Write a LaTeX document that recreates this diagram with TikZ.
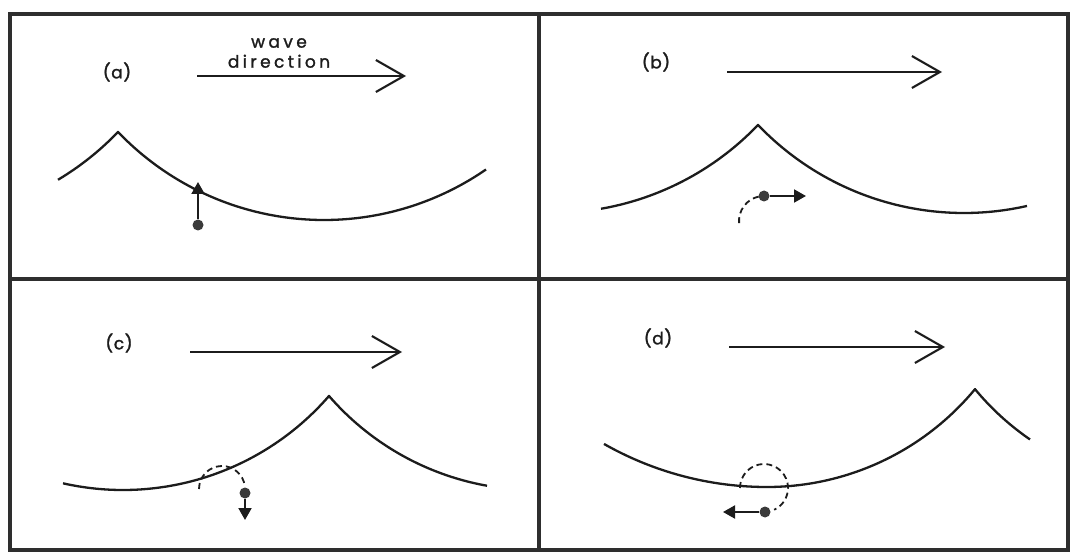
\documentclass[tikz,border=0pt]{standalone}
\usepackage{fontspec}
\setmainfont{Poppins}
\usetikzlibrary{arrows.meta}
\definecolor{ink}{HTML}{1C1C1C}
\definecolor{framecol}{HTML}{2E2E2E}
\definecolor{dotcol}{HTML}{3A3A3A}
\begin{document}
\begin{tikzpicture}[x=1pt,y=-1pt,
  declare function={wv(\p,\c,\b,\r)=\b-\r+\r*sqrt(1-((\p-\c)/\r)^2);},
  wave/.style={line width=2.3pt, ink, line join=miter},
  dirarrow/.style={line width=2.1pt, ink, -{Straight Barb[length=28pt,width=32pt]}},
  frame/.style={line width=4pt, framecol},
  dot/.style={circle, fill=dotcol, draw=none, inner sep=0pt, minimum size=11pt},
  orbit/.style={line width=1.8pt, ink, dash pattern=on 6pt off 4pt},
  motion/.style={line width=2pt, ink, -{Triangle[length=12pt,width=13pt]}},
  lab/.style={text=ink, font=\fontsize{17}{20}\selectfont\addfontfeatures{LetterSpace=4,FakeBold=1.5}},
  wlab/.style={text=ink, align=center, font=\fontsize{17}{20}\selectfont\addfontfeatures{LetterSpace=20,FakeBold=1.5}}
]
\fill[white] (0,0) rectangle (1073,553);
\useasboundingbox (0,0) rectangle (1073,553);

% frame
\draw[frame] (10,14) rectangle (1068,550);
\draw[frame] (539,14) -- (539,550);
\draw[frame] (10,279) -- (1068,279);

% ---------- panel (a)
\node[lab] (la) at (117,72) {(a)};
\node[wlab] (wd) at (279,53) {wave\\direction};
\coordinate (as) at (197,76); \coordinate (ae) at (406,76);
\draw[dirarrow] (as) -- (ae);
\draw[wave] plot[domain=58:118,samples=30] (\x,{wv(\x,-88,220,285)})
  -- plot[domain=118:486,samples=90] (\x,{wv(\x,324,220,285)});
\node[dot] (pa) at (198,225) {};
\coordinate (ta) at (198,182);
\draw[motion] (pa) -- (ta);

% ---------- panel (b)
\node[lab] (lb) at (656,62) {(b)};
\coordinate (bs) at (727,72); \coordinate (be) at (942,72);
\draw[dirarrow] (bs) -- (be);
\draw[wave] plot[domain=601:758,samples=40] (\x,{wv(\x,552,213,285)})
  -- plot[domain=758:1027,samples=70] (\x,{wv(\x,964,213,285)});
\draw[orbit] (764,221) ++(175:25) arc[start angle=175,end angle=258,radius=25];
\node[dot] (pb) at (764,196) {};
\coordinate (tb) at (806,196);
\draw[motion] (pb) -- (tb);

% ---------- panel (c)
\node[lab] (lc) at (119,343) {(c)};
\coordinate (cs) at (190,352); \coordinate (ce) at (402,352);
\draw[dirarrow] (cs) -- (ce);
\draw[wave] plot[domain=63:329,samples=70] (\x,{wv(\x,123,490,272.7)})
  -- plot[domain=329:487,samples=40] (\x,{wv(\x,535,490,272.7)});
\draw[orbit] (222,489) ++(180:23) arc[start angle=180,end angle=352,radius=23];
\node[dot] (pc) at (245,493) {};
\coordinate (tc) at (245,520);
\draw[motion] (pc) -- (tc);

% ---------- panel (d)
\node[lab] (ld) at (658,338) {(d)};
\coordinate (ds) at (729,347); \coordinate (de) at (945,347);
\draw[dirarrow] (ds) -- (de);
\draw[wave] plot[domain=604:767,samples=45] (\x,{wv(\x,767,487,330)})
  -- plot[domain=767:975,samples=55] (\x,{wv(\x,767,487,270)})
  -- plot[domain=975:1030,samples=20] (\x,{wv(\x,1183,487,270)});
\draw[orbit] (764,488) ++(180:24) arc[start angle=180,end angle=425,radius=24];
\node[dot] (pd) at (765,512) {};
\coordinate (td) at (723,512);
\draw[motion] (pd) -- (td);
\end{tikzpicture}
\end{document}
